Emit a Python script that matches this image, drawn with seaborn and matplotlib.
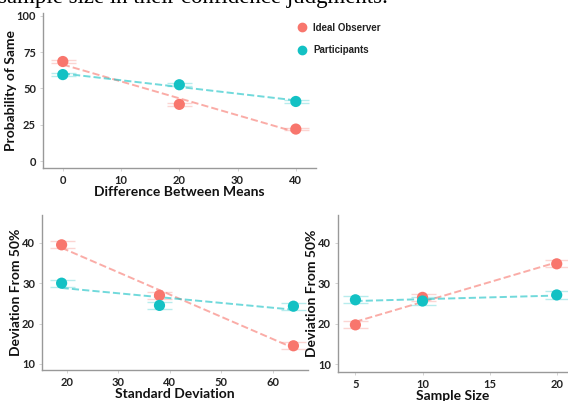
import pandas as pd
import numpy as np
import matplotlib
matplotlib.use('Agg')
import matplotlib.pyplot as plt
import seaborn as sns
from matplotlib.lines import Line2D

# --- DATA ---
GROUPS = ['Ideal Observer', 'Participants']
PAL = {'Ideal Observer': '#F8766D', 'Participants': '#13C1C4'}

diff_means = [0, 20, 40]
same_ideal = [68.5, 39.0, 22.0]
same_part  = [59.5, 52.5, 41.0]

std_dev = [19, 38, 64]
sd_ideal = [39.5, 27.0, 14.5]
sd_part  = [30.0, 24.5, 24.3]

sample_size = [5, 10, 20]
n_ideal = [19.7, 26.5, 34.8]
n_part  = [25.9, 25.6, 27.1]


def long_df(x, ideal, part):
    return pd.DataFrame({
        'x': list(x) + list(x),
        'y': list(ideal) + list(part),
        'group': [GROUPS[0]] * len(x) + [GROUPS[1]] * len(x),
    })


df_top = long_df(diff_means, same_ideal, same_part)
df_bl = long_df(std_dev, sd_ideal, sd_part)
df_br = long_df(sample_size, n_ideal, n_part)

sns.set_theme(style='white')
plt.rcParams['font.family'] = ['Lato', 'DejaVu Sans']

fig = plt.figure(figsize=(5.68, 4.01), dpi=100)
ax_top = fig.add_axes([0.0757, 0.581, 0.480, 0.387])
ax_bl = fig.add_axes([0.074, 0.0773, 0.468, 0.3867])
ax_br = fig.add_axes([0.595, 0.072, 0.405, 0.392])


def draw_panel(ax, d, xlabel, ylabel, xlim, ylim, xticks, yticks, cap):
    for g in GROUPS:
        sub = d[d['group'] == g]
        sns.regplot(data=sub, x='x', y='y', ax=ax, scatter=False, ci=None,
                    color=PAL[g], line_kws=dict(ls='--', lw=1.4, alpha=0.6))
        ax.errorbar(sub['x'], sub['y'], yerr=0.9, fmt='none', ecolor=PAL[g],
                    alpha=0.3, capsize=cap, elinewidth=0, capthick=1)
    sns.scatterplot(data=d, x='x', y='y', hue='group', palette=PAL, ax=ax,
                    s=65, edgecolor='none', legend=False, zorder=5)
    ax.set_xlim(*xlim)
    ax.set_ylim(*ylim)
    ax.set_xticks(xticks)
    ax.set_yticks(yticks)
    ax.set_xlabel(xlabel, fontsize=10, fontweight='bold', labelpad=0, color='#111111')
    ax.set_ylabel(ylabel, fontsize=10, fontweight='bold', labelpad=0, color='#111111')
    for lab in ax.get_xticklabels() + ax.get_yticklabels():
        lab.set_fontweight('bold')
        lab.set_fontsize(8)
        lab.set_color('#222222')
    ax.tick_params(axis='both', length=2, width=0.6, color='#cccccc', pad=3,
                   bottom=True, left=True)
    for side in ['top', 'right']:
        ax.spines[side].set_visible(False)
    for side in ['left', 'bottom']:
        ax.spines[side].set_color('#999999')
        ax.spines[side].set_linewidth(1.0)


draw_panel(ax_top, df_top, 'Difference Between Means', 'Probability of Same',
           (-3.4, 43.4), (-4.8, 102), [0, 10, 20, 30, 40], [0, 25, 50, 75, 100], 9)
draw_panel(ax_bl, df_bl, 'Standard Deviation', 'Deviation From 50%',
           (15.2, 66.8), (8.5, 46.9), [20, 30, 40, 50, 60], [10, 20, 30, 40], 9)
draw_panel(ax_br, df_br, 'Sample Size', 'Deviation From 50%',
           (3.7, 20.84), (8.0, 46.9), [5, 10, 15, 20], [10, 20, 30, 40], 9)

# legend in the top-right corner
handles = [Line2D([], [], marker='o', ls='none', color=PAL[g], markersize=6) for g in GROUPS]
leg = fig.legend(handles, GROUPS, loc='upper left', bbox_to_anchor=(0.5, 0.965),
                 frameon=False, handletextpad=0.1, labelspacing=1.3,
                 prop=dict(family='Liberation Sans', weight='bold', size=7))
for t in leg.get_texts():
    t.set_color('#222222')

# cropped caption line from the source page
fig.text(-0.004, 1 - 3 / 401, 'sample size in their confidence judgments.',
         family='Liberation Serif', fontsize=16.5, va='baseline', ha='left', color='black')

plt.savefig('out.png', dpi=100)
